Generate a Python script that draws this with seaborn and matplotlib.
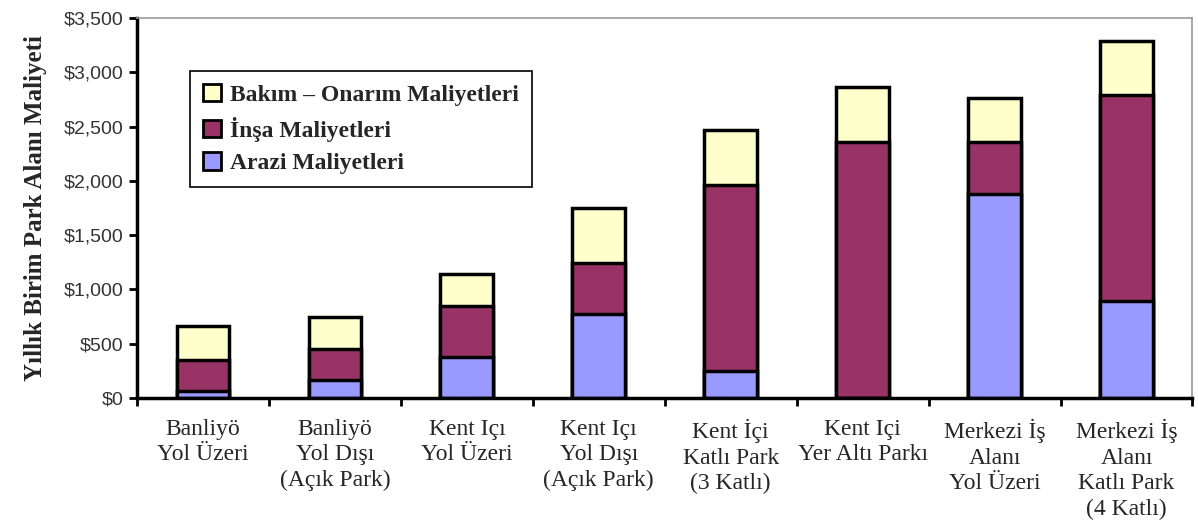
import numpy as np
import pandas as pd
import seaborn as sns
from matplotlib import pyplot as plt
from matplotlib.patches import Patch
from matplotlib.ticker import FuncFormatter

categories = [
    "Banliyö\nYol Üzeri",
    "Banliyö\nYol Dışı\n(Açık Park)",
    "Kent Içı\nYol Üzeri",
    "Kent Içı\nYol Dışı\n(Açık Park)",
    "Kent İçi\nKatlı Park\n(3 Katlı)",
    "Kent Içi\nYer Altı Parkı",
    "Merkezi İş\nAlanı\nYol Üzeri",
    "Merkezi İş\nAlanı\nKatlı Park\n(4 Katlı)",
]
arazi = [70, 165, 375, 775, 250, 0, 1880, 890]
insa = [280, 285, 470, 470, 1710, 2360, 480, 1900]
bakim = [310, 295, 300, 505, 505, 505, 400, 495]

series_names = ["Bakım – Onarım Maliyetleri", "İnşa Maliyetleri", "Arazi Maliyetleri"]
colors = ["#FFFFCC", "#993366", "#9999FF"]

sns.set_theme(style="white")
plt.rcParams["font.family"] = ["Liberation Serif", "DejaVu Serif"]

df = pd.DataFrame({"category": categories, "arazi": arazi, "insa": insa, "bakim": bakim})
df["c_arazi"] = df["arazi"]
df["c_insa"] = df["c_arazi"] + df["insa"]
df["c_bakim"] = df["c_insa"] + df["bakim"]

fig = plt.figure(figsize=(11.98, 5.28), dpi=100)
ax = fig.add_axes([0.1144, 0.246, 0.881, 0.72])

# stacked bars drawn as cumulative layers, top layer first
for col, c in zip(["c_bakim", "c_insa", "c_arazi"], colors):
    sns.barplot(data=df, x="category", y=col, color=c, width=0.4,
                edgecolor="black", linewidth=2.5, saturation=1, ax=ax)

ax.set_xlim(-0.5, 7.5)
ax.set_ylim(0, 3500)
ax.set_yticks(np.arange(0, 3501, 500))
ax.yaxis.set_major_formatter(FuncFormatter(lambda v, p: f"${v:,.0f}"))
for lab in ax.get_yticklabels():
    lab.set_fontfamily("Liberation Sans")
    lab.set_fontsize(14)
    lab.set_color("#333333")
ax.tick_params(axis="y", length=6, width=2, color="black", pad=4, left=True)

# x: ticks at the category boundaries, labels in between
ax.set_xticks(np.arange(-0.5, 8, 1))
ax.set_xticklabels([""] * 9)
ax.set_xticks(np.arange(8), minor=True)
ax.set_xticklabels(categories, minor=True, fontsize=17, linespacing=1.28)
ax.tick_params(axis="x", which="major", length=6, width=2, color="black", bottom=True)
ax.tick_params(axis="x", which="minor", length=0, pad=15)

ax.set_xlabel("")
ax.set_ylabel("Yıllık Birim Park Alanı Maliyeti", fontsize=18, fontweight="bold", labelpad=12)

for side in ["left", "bottom"]:
    ax.spines[side].set_color("black")
    ax.spines[side].set_linewidth(2.5)
for side in ["top", "right"]:
    ax.spines[side].set_color("#999999")
    ax.spines[side].set_linewidth(1.2)

handles = [Patch(facecolor=c, edgecolor="black", linewidth=2) for c in colors]
leg = ax.legend(handles, series_names, loc="upper left", bbox_to_anchor=(0.05, 0.86),
                borderaxespad=0, frameon=True, fancybox=False, edgecolor="black", framealpha=1,
                prop={"family": "Liberation Serif", "weight": "bold", "size": 17},
                handlelength=0.75, handleheight=0.75, handletextpad=0.4,
                labelspacing=0.45, borderpad=0.55)
leg.get_frame().set_linewidth(1.2)

fig.savefig("out.png", dpi=100)
